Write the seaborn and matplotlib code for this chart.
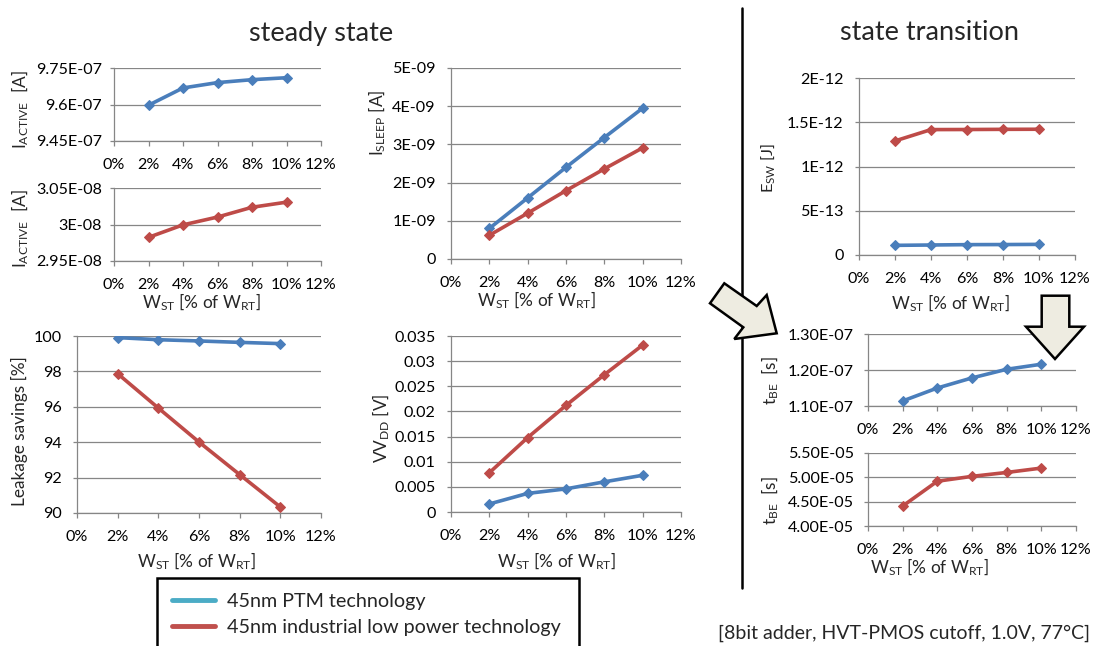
import matplotlib
matplotlib.use("Agg")
import matplotlib.pyplot as plt
import seaborn as sns
import pandas as pd
from matplotlib.patches import Polygon
from matplotlib.lines import Line2D

W, H = 1093, 646

# ---------------- data ----------------
wst = [0.02, 0.04, 0.06, 0.08, 0.10]
xticks = [0, 0.02, 0.04, 0.06, 0.08, 0.10, 0.12]
xtick_labels = ["0%", "2%", "4%", "6%", "8%", "10%", "12%"]

i_active_ptm = [9.597e-7, 9.668e-7, 9.690e-7, 9.702e-7, 9.710e-7]
i_active_lp = [2.9824e-8, 2.9995e-8, 3.0102e-8, 3.0236e-8, 3.0306e-8]
i_sleep_ptm = [0.80e-9, 1.60e-9, 2.40e-9, 3.18e-9, 3.95e-9]
i_sleep_lp = [0.62e-9, 1.20e-9, 1.79e-9, 2.36e-9, 2.91e-9]
leak_ptm = [99.91, 99.79, 99.72, 99.64, 99.57]
leak_lp = [97.87, 95.93, 94.01, 92.17, 90.34]
vvdd_ptm = [0.0016, 0.0037, 0.0046, 0.0060, 0.0073]
vvdd_lp = [0.0078, 0.0148, 0.0212, 0.0273, 0.0332]
esw_ptm = [1.09e-13, 1.13e-13, 1.17e-13, 1.18e-13, 1.20e-13]
esw_lp = [1.289e-12, 1.417e-12, 1.418e-12, 1.420e-12, 1.421e-12]
tbe_ptm = [1.114e-7, 1.150e-7, 1.178e-7, 1.202e-7, 1.216e-7]
tbe_lp = [4.41e-5, 4.92e-5, 5.02e-5, 5.10e-5, 5.19e-5]

yt_p1 = [9.45e-7, 9.6e-7, 9.75e-7]
yl_p1 = ["9.45E-07", "9.6E-07", "9.75E-07"]
yt_p2 = [2.95e-8, 3.0e-8, 3.05e-8]
yl_p2 = ["2.95E-08", "3E-08", "3.05E-08"]
yt_p3 = [0, 1e-9, 2e-9, 3e-9, 4e-9, 5e-9]
yl_p3 = ["0", "1E-09", "2E-09", "3E-09", "4E-09", "5E-09"]
yt_p4 = [90, 92, 94, 96, 98, 100]
yl_p4 = ["90", "92", "94", "96", "98", "100"]
yt_p5 = [0, 0.005, 0.01, 0.015, 0.02, 0.025, 0.03, 0.035]
yl_p5 = ["0", "0.005", "0.01", "0.015", "0.02", "0.025", "0.03", "0.035"]
yt_p6 = [0, 5e-13, 1e-12, 1.5e-12, 2e-12]
yl_p6 = ["0", "5E-13", "1E-12", "1.5E-12", "2E-12"]
yt_p7 = [1.1e-7, 1.2e-7, 1.3e-7]
yl_p7 = ["1.10E-07", "1.20E-07", "1.30E-07"]
yt_p8 = [4.0e-5, 4.5e-5, 5.0e-5, 5.5e-5]
yl_p8 = ["4.00E-05", "4.50E-05", "5.00E-05", "5.50E-05"]

legend_labels = ["45nm PTM technology", "45nm industrial low power technology"]

# ---------------- style ----------------
BLUE = "#4A7EBB"
RED = "#BE4B48"
LEG_BLUE = "#4BACC6"
LEG_RED = "#C0504D"
GRID = "#868686"
ARROW_FILL = "#EEECE1"
TICK_FS = 11.6
LAB_FS = 12.4

sns.set_style("white")
plt.rcParams["font.family"] = ["Lato", "DejaVu Sans"]
plt.rcParams["mathtext.default"] = "regular"

fig = plt.figure(figsize=(W / 100, H / 100), dpi=100)


def fxy(x, y):
    return (x / W, 1 - y / H)


def px_axes(x0, y0, x1, y1):
    return fig.add_axes([x0 / W, 1 - y1 / H, (x1 - x0) / W, (y1 - y0) / H])


def draw(ax, series, colors):
    for vals, c in zip(series, colors):
        df = pd.DataFrame({"wst": wst, "val": vals})
        sns.lineplot(data=df, x="wst", y="val", ax=ax, color=c, marker="D",
                     markersize=5, markeredgecolor=c, linewidth=2.6,
                     legend=False, zorder=3)


def style(ax, yt, yl, ypad=8.0):
    ax.set_xlim(0, 0.12)
    ax.set_xticks(xticks)
    ax.set_xticklabels(xtick_labels)
    ax.set_ylim(yt[0], yt[-1])
    ax.set_yticks(yt)
    ax.set_yticklabels(yl)
    ax.grid(axis="y", color=GRID, lw=0.9)
    ax.grid(axis="x", visible=False)
    ax.set_axisbelow(True)
    for s in ["top", "right"]:
        ax.spines[s].set_visible(False)
    for s in ["left", "bottom"]:
        ax.spines[s].set_color(GRID)
        ax.spines[s].set_linewidth(0.9)
    ax.tick_params(axis="x", direction="out", length=3.5, width=0.9,
                   color=GRID, pad=8.8, labelsize=TICK_FS, labelcolor="black",
                   bottom=True)
    ax.tick_params(axis="y", direction="out", length=3, width=0.9,
                   color=GRID, pad=ypad, labelsize=TICK_FS, labelcolor="black",
                   left=True)
    ax.set_xlabel("")
    ax.set_ylabel("")


def ylab(ax, text, cx, cy, fs=LAB_FS):
    ax.set_ylabel(text, fontsize=fs)
    ax.yaxis.set_label_coords(*fxy(cx, cy), transform=fig.transFigure)
    ax.yaxis.label.set_va("center")
    ax.yaxis.label.set_ha("center")


def xlab(ax, cx, cy, fs=LAB_FS):
    ax.set_xlabel("W$_{ST}$ [% of W$_{RT}$]", fontsize=fs)
    ax.xaxis.set_label_coords(*fxy(cx, cy), transform=fig.transFigure)
    ax.xaxis.label.set_va("center")


# Panel 1: I_ACTIVE PTM
ax1 = px_axes(114, 68, 321, 141)
draw(ax1, [i_active_ptm], [BLUE])
style(ax1, yt_p1, yl_p1, ypad=5.5)
ylab(ax1, "I$_{ACTIVE}$  [A]", 20, 110)

# Panel 2: I_ACTIVE LP
ax2 = px_axes(114, 188, 321, 261)
draw(ax2, [i_active_lp], [RED])
style(ax2, yt_p2, yl_p2, ypad=5.5)
ylab(ax2, "I$_{ACTIVE}$  [A]", 20, 229)
xlab(ax2, 202, 302)

# Panel 3: I_SLEEP
ax3 = px_axes(451, 68, 681, 259)
draw(ax3, [i_sleep_ptm, i_sleep_lp], [BLUE, RED])
style(ax3, yt_p3, yl_p3)
ylab(ax3, "I$_{SLEEP}$ [A]", 377, 123)
xlab(ax3, 537, 300)

# Panel 4: Leakage savings
ax4 = px_axes(77, 336, 321, 513)
draw(ax4, [leak_ptm, leak_lp], [BLUE, RED])
style(ax4, yt_p4, yl_p4)
ylab(ax4, "Leakage savings [%]", 19, 431)
xlab(ax4, 197, 561)

# Panel 5: VV_DD
ax5 = px_axes(451, 336, 681, 512)
draw(ax5, [vvdd_ptm, vvdd_lp], [BLUE, RED])
style(ax5, yt_p5, yl_p5)
ylab(ax5, "VV$_{DD}$ [V]", 381, 428)
xlab(ax5, 557, 561)

# Panel 6: E_SW
ax6 = px_axes(859, 78, 1075, 255)
draw(ax6, [esw_ptm, esw_lp], [BLUE, RED])
style(ax6, yt_p6, yl_p6)
ylab(ax6, "E$_{SW}$ [J]", 768, 168, fs=11.8)
xlab(ax6, 951, 303)

# Panel 7: t_BE PTM
ax7 = px_axes(868, 334, 1076, 406)
draw(ax7, [tbe_ptm], [BLUE])
style(ax7, yt_p7, yl_p7, ypad=7.0)
ylab(ax7, "t$_{BE}$  [s]", 770, 381)

# Panel 8: t_BE LP
ax8 = px_axes(868, 453, 1076, 526)
draw(ax8, [tbe_lp], [RED])
style(ax8, yt_p8, yl_p8, ypad=7.0)
ylab(ax8, "t$_{BE}$  [s]", 770, 501)
xlab(ax8, 930, 567)

# ---------------- annotations ----------------
fig.text(*fxy(321, 33), "steady state", ha="center", va="center", fontsize=19.5)
fig.text(*fxy(930, 33), "state transition", ha="center", va="center", fontsize=19.5)

fig.add_artist(Line2D([742 / W, 742 / W], [1 - 8 / H, 1 - 588 / H],
                      color="black", lw=1.8, transform=fig.transFigure))

diag = [(724.3, 283.3), (756.7, 306), (766.7, 295), (776.7, 333.3),
        (734.3, 339), (743.3, 327.3), (710, 303.3)]
down = [(1041.7, 295.7), (1069.3, 295.7), (1069.3, 326.7), (1084, 326.7),
        (1055, 359), (1026, 326.7), (1041.7, 326.7)]
for shape in (diag, down):
    fig.add_artist(Polygon([fxy(x, y) for x, y in shape], closed=True,
                           facecolor=ARROW_FILL, edgecolor="black", lw=1.8,
                           transform=fig.transFigure, zorder=10))

handles = [Line2D([], [], color=LEG_BLUE, lw=3.5),
           Line2D([], [], color=LEG_RED, lw=3.5)]
leg = fig.legend(handles=handles, labels=legend_labels, loc="upper left",
                 bbox_to_anchor=(157 / W, 1 - 578 / H, 422 / W, 0.0),
                 mode="expand", frameon=True, fancybox=False,
                 edgecolor="black", framealpha=1, fontsize=14.2,
                 handlelength=2.2, handletextpad=0.6, borderpad=0.75,
                 labelspacing=0.45, borderaxespad=0)
leg.get_frame().set_linewidth(1.8)

fig.text(*fxy(718, 633), "[8bit adder, HVT-PMOS cutoff, 1.0V, 77°C]",
         ha="left", va="center", fontsize=14.0)

fig.savefig("out.png", dpi=100)
